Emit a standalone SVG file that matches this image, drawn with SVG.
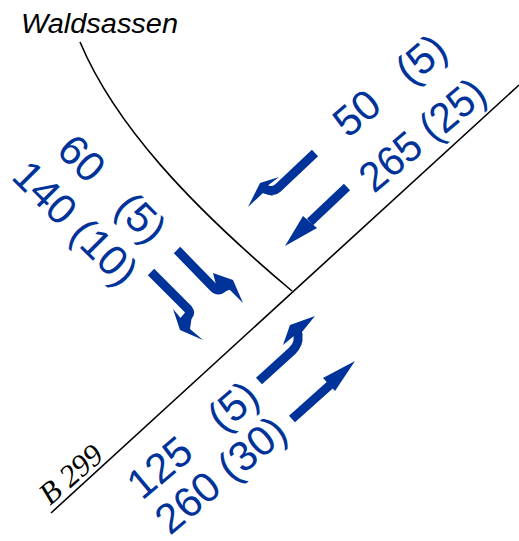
<svg xmlns="http://www.w3.org/2000/svg" width="519" height="541" viewBox="0 0 519 541">
<style>
.road{fill:none;stroke:#000;stroke-width:1.6}
.shaft{fill:none;stroke:#003399;stroke-width:9}
.head{fill:#003399;stroke:none}
.num{font-family:"Liberation Sans",Arial,sans-serif;font-size:42px;fill:#003399;white-space:pre}
.town{font-family:"Liberation Sans",Arial,sans-serif;font-style:italic;font-size:27px;fill:#000}
.ref{font-family:"Liberation Serif","Times New Roman",serif;font-style:italic;font-size:31px;fill:#000}
</style>
<rect width="519" height="541" fill="#fff"/>
<g id="roads">
<path class="road" d="M51 513L519 85"/>
<path class="road" d="M80 42C115 125 190 205 292 291"/>
</g>
<g id="connectors">
<g id="arrow-west-upper">
<path class="shaft" d="M177 250L213 287Q218 292 223 288L229 283"/>
<path class="head" d="M213 273L233 280L243 303L230 290L218 292Z"/>
</g>
<g id="arrow-west-lower">
<path class="shaft" d="M151 272L188 309Q191 313 188 316L183 322"/>
<path class="head" d="M173 309L180 330L203 340L190 329L192 315L184 322Z"/>
</g>
<g id="arrow-north-upper">
<path class="shaft" d="M315 153L279 187Q274 192 268 190L262 188"/>
<path class="head" d="M279 177L260 183L248 207L263 193L273 196L266 187Z"/>
</g>
<g id="arrow-north-lower">
<path class="shaft" d="M347 187L310 222"/>
<path class="head" d="M303 216L317 228L285 246Z"/>
</g>
<g id="arrow-south-upper">
<path class="shaft" d="M259 381L292 351Q299 344 298 337L298 333"/>
<path class="head" d="M283 345L290 325L315 316L302 332L302 343L295 335Z"/>
</g>
<g id="arrow-south-lower">
<path class="shaft" d="M292 419L330 385"/>
<path class="head" d="M323 378L335 391L355 361Z"/>
</g>
</g>
<g id="label-waldsassen"><text class="town" x="21" y="33" textLength="157" lengthAdjust="spacingAndGlyphs">Waldsassen</text></g>
<g id="label-b299"><text class="ref" transform="translate(50 506) rotate(-41)">B 299</text></g>
<g id="label-west">
<text class="num" transform="translate(55 152) rotate(45)">60   (5)</text>
<text class="num" transform="translate(10 178) rotate(45)">140 (10)</text>
</g>
<g id="label-north">
<text class="num" transform="translate(348 139) rotate(-40)">50   (5)</text>
<text class="num" transform="translate(374 194) rotate(-40)" textLength="150" lengthAdjust="spacingAndGlyphs">265 (25)</text>
</g>
<g id="label-south">
<text class="num" transform="translate(142 501) rotate(-40)">125   (5)</text>
<text class="num" transform="translate(170 536) rotate(-40)">260 (30)</text>
</g>
</svg>
